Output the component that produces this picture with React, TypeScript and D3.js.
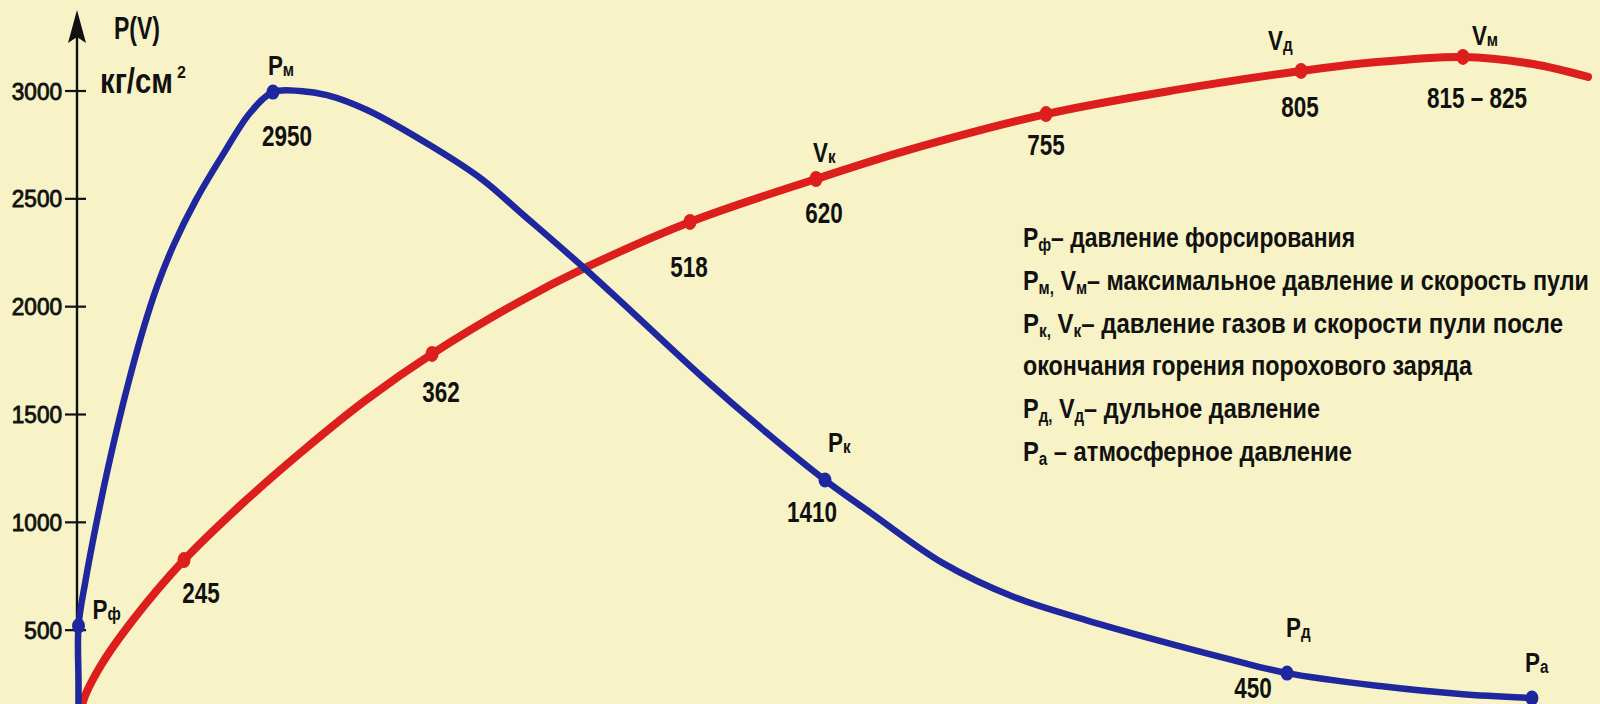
import React from 'react';
import * as d3 from 'd3';

const W = 1600;
const H = 704;

// Pressure curve: bullet travel (relative units) vs pressure on the kg/cm² axis
const pressureTravel = [0.1, 0.1, 0.1, 0.57, 1.28, 2.01, 2.8, 3.43, 4.34, 5.25, 6.36, 7.83, 9.67, 11.38, 12.89, 14.67, 16.45, 19.08, 23.42, 26.71, 29.14, 33.29, 36.58, 40.99, 45.39, 49.21, 52.24, 56.97, 61.64, 66.38, 71.05, 75.79, 79.61, 85.72, 90.99, 95.72];
const pressureValues = [-100, 250, 520, 733, 997, 1243, 1484, 1660, 1892, 2091, 2286, 2495, 2713, 2898, 2995, 3000, 2981, 2912, 2740, 2587, 2439, 2184, 1971, 1683, 1414, 1196, 1043, 811, 654, 547, 454, 366, 301, 241, 204, 185];

// Velocity curve: same travel units, drawn against the same vertical scale (it has no own axis)
const velocityTravel = [0.26, 0.39, 1.51, 3.68, 7.04, 10.99, 15.0, 19.01, 23.36, 28.95, 33.55, 40.33, 48.62, 54.67, 63.75, 72.3, 80.53, 84.87, 91.18, 95.79, 99.41];
const velocityPlot = [74, 167, 329, 547, 825, 1094, 1340, 1567, 1781, 2017, 2184, 2393, 2592, 2726, 2893, 3005, 3093, 3130, 3158, 3125, 3065];

const yTicks = [500, 1000, 1500, 2000, 2500, 3000];

const pressureMarkerIdx = [2, 14, 25, 32, 35];
const pressureMarkerSub = ['ф', 'м', 'к', 'д', 'а'];
const pressureMarkerValue = ['', '2950', '1410', '450', ''];

const velocityMarkerIdx = [4, 8, 11, 12, 14, 16, 18];
const velocityMarkerSub = ['', '', '', 'к', '', 'д', 'м'];
const velocityMarkerValue = ['245', '362', '518', '620', '755', '805', '815 – 825'];

// [text, isSubscript]
const legendLines: [string, boolean][][] = [
  [['P', false], ['ф', true], ['– давление форсирования', false]],
  [['P', false], ['м,', true], [' V', false], ['м', true], ['– максимальное давление и скорость пули', false]],
  [['P', false], ['к,', true], [' V', false], ['к', true], ['– давление газов и скорости пули после', false]],
  [['окончания горения порохового заряда', false]],
  [['P', false], ['д,', true], [' V', false], ['д', true], ['– дульное давление', false]],
  [['P', false], ['а', true], [' – атмосферное давление', false]],
];

// layout (px offsets from the marker)
const pressureLabelLayout = [
  { nx: 14, ny: -7, vx: 0, vy: 0 },
  { nx: -5, ny: -17, vx: 14, vy: 54 },
  { nx: 3, ny: -28, vx: -13, vy: 42 },
  { nx: -1, ny: -36, vx: -34, vy: 25 },
  { nx: -7, ny: -26, vx: 0, vy: 0 },
];
const velocityLabelLayout = [
  { nx: 0, ny: 0, vx: 17, vy: 43 },
  { nx: 0, ny: 0, vx: 9, vy: 48 },
  { nx: 0, ny: 0, vx: -1, vy: 55 },
  { nx: -3, ny: -17, vx: 8, vy: 44 },
  { nx: 0, ny: 0, vx: 0, vy: 41 },
  { nx: -33, ny: -21, vx: -1, vy: 46 },
  { nx: 9, ny: -12, vx: 14, vy: 51 },
];
const legendWidths = [332, 566, 540, 449, 297, 329];

const BG = '#f7f3c6';
const BLUE = '#1f279e';
const RED = '#dc1e1c';
const INK = '#111111';
const FONT = "'Liberation Sans', Arial, Helvetica, sans-serif";

export default function App() {
  const x = d3.scaleLinear().domain([0, 100]).range([77, 1597]);
  const y = d3.scaleLinear().domain([0, 3000]).range([738, 91]);

  const line = d3
    .line<[number, number]>()
    .x((d) => x(d[0]))
    .y((d) => y(d[1]))
    .curve(d3.curveCatmullRom.alpha(0.5));

  const pData: [number, number][] = pressureTravel.map((t, i) => [t, pressureValues[i]]);
  const vData: [number, number][] = velocityTravel.map((t, i) => [t, velocityPlot[i]]);

  const axisX = 77;

  const nameLabel = (main: string, sub: string, px: number, py: number, key: string) => (
    <text key={key} transform={`translate(${px},${py}) scale(0.8,1)`} fontFamily={FONT} fontWeight="bold" fontSize={28} fill={INK}>
      {main}
      <tspan fontSize={19} dy={1}>{sub}</tspan>
    </text>
  );

  const valueLabel = (txt: string, px: number, py: number, key: string) => (
    <text key={key} transform={`translate(${px},${py}) scale(0.75,1)`} textAnchor="middle" fontFamily={FONT} fontWeight="bold" fontSize={30} fill={INK}>
      {txt}
    </text>
  );

  return (
    <svg width={W} height={H} style={{ position: 'absolute', left: 0, top: 0, display: 'block' }}>
      <rect x={0} y={0} width={W} height={H} fill={BG} />

      {/* y axis */}
      <line x1={axisX} x2={axisX} y1={H} y2={30} stroke={INK} strokeWidth={2.4} />
      <path d={`M${axisX},10 L${axisX + 9},43 L${axisX},37 L${axisX - 9},43 Z`} fill={INK} />
      {yTicks.map((t) => (
        <g key={t}>
          <line x1={axisX - 12} x2={axisX + 9} y1={y(t)} y2={y(t)} stroke={INK} strokeWidth={2.2} />
          <text
            transform={`translate(${axisX - 15},${y(t) + 8.5}) scale(0.94,1)`}
            textAnchor="end"
            fontFamily={FONT}
            fontSize={24}
            stroke={INK}
            strokeWidth={0.9}
            fill={INK}
          >
            {t}
          </text>
        </g>
      ))}
      <text x={114} y={39} fontFamily={FONT} fontWeight="bold" fontSize={31} fill={INK} textLength={46} lengthAdjust="spacingAndGlyphs">
        P(V)
      </text>
      <text x={100} y={93} fontFamily={FONT} fontWeight="bold" fontSize={35} fill={INK} textLength={73} lengthAdjust="spacingAndGlyphs">
        кг/см
      </text>
      <text x={177} y={78} fontFamily={FONT} fontWeight="bold" fontSize={16} fill={INK}>
        2
      </text>

      {/* curves */}
      <path d={line(vData) || ''} fill="none" stroke={RED} strokeWidth={8} strokeLinecap="round" />
      <path d={line(pData) || ''} fill="none" stroke={BLUE} strokeWidth={6.5} strokeLinecap="round" />

      {/* pressure markers */}
      {pressureMarkerIdx.map((idx, i) => {
        const cx = x(pressureTravel[idx]);
        const cy = y(pressureValues[idx]);
        const L = pressureLabelLayout[i];
        return (
          <g key={'p' + i}>
            <ellipse cx={cx} cy={cy} rx={6.5} ry={7.5} fill={BLUE} />
            {nameLabel('P', pressureMarkerSub[i], cx + L.nx, cy + L.ny, 'pn' + i)}
            {pressureMarkerValue[i] && valueLabel(pressureMarkerValue[i], cx + L.vx, cy + L.vy, 'pv' + i)}
          </g>
        );
      })}

      {/* velocity markers */}
      {velocityMarkerIdx.map((idx, i) => {
        const cx = x(velocityTravel[idx]);
        const cy = y(velocityPlot[idx]);
        const L = velocityLabelLayout[i];
        return (
          <g key={'v' + i}>
            <ellipse cx={cx} cy={cy} rx={6.5} ry={8} fill={RED} />
            {velocityMarkerSub[i] && nameLabel('V', velocityMarkerSub[i], cx + L.nx, cy + L.ny, 'vn' + i)}
            {valueLabel(velocityMarkerValue[i], cx + L.vx, cy + L.vy, 'vv' + i)}
          </g>
        );
      })}

      {/* legend */}
      {legendLines.map((parts, i) => {
        let prevShift = 0;
        return (
          <text
            key={'lg' + i}
            x={1023}
            y={247 + i * 42.8}
            fontFamily={FONT}
            fontWeight="bold"
            fontSize={28}
            fill={INK}
            textLength={legendWidths[i]}
            lengthAdjust="spacingAndGlyphs"
          >
            {parts.map((p, j) => {
              const shift = p[1] ? 4 : 0;
              const dy = shift - prevShift;
              prevShift = shift;
              return (
                <tspan key={j} dy={dy} fontSize={p[1] ? 18 : 28}>
                  {p[0]}
                </tspan>
              );
            })}
          </text>
        );
      })}
    </svg>
  );
}
